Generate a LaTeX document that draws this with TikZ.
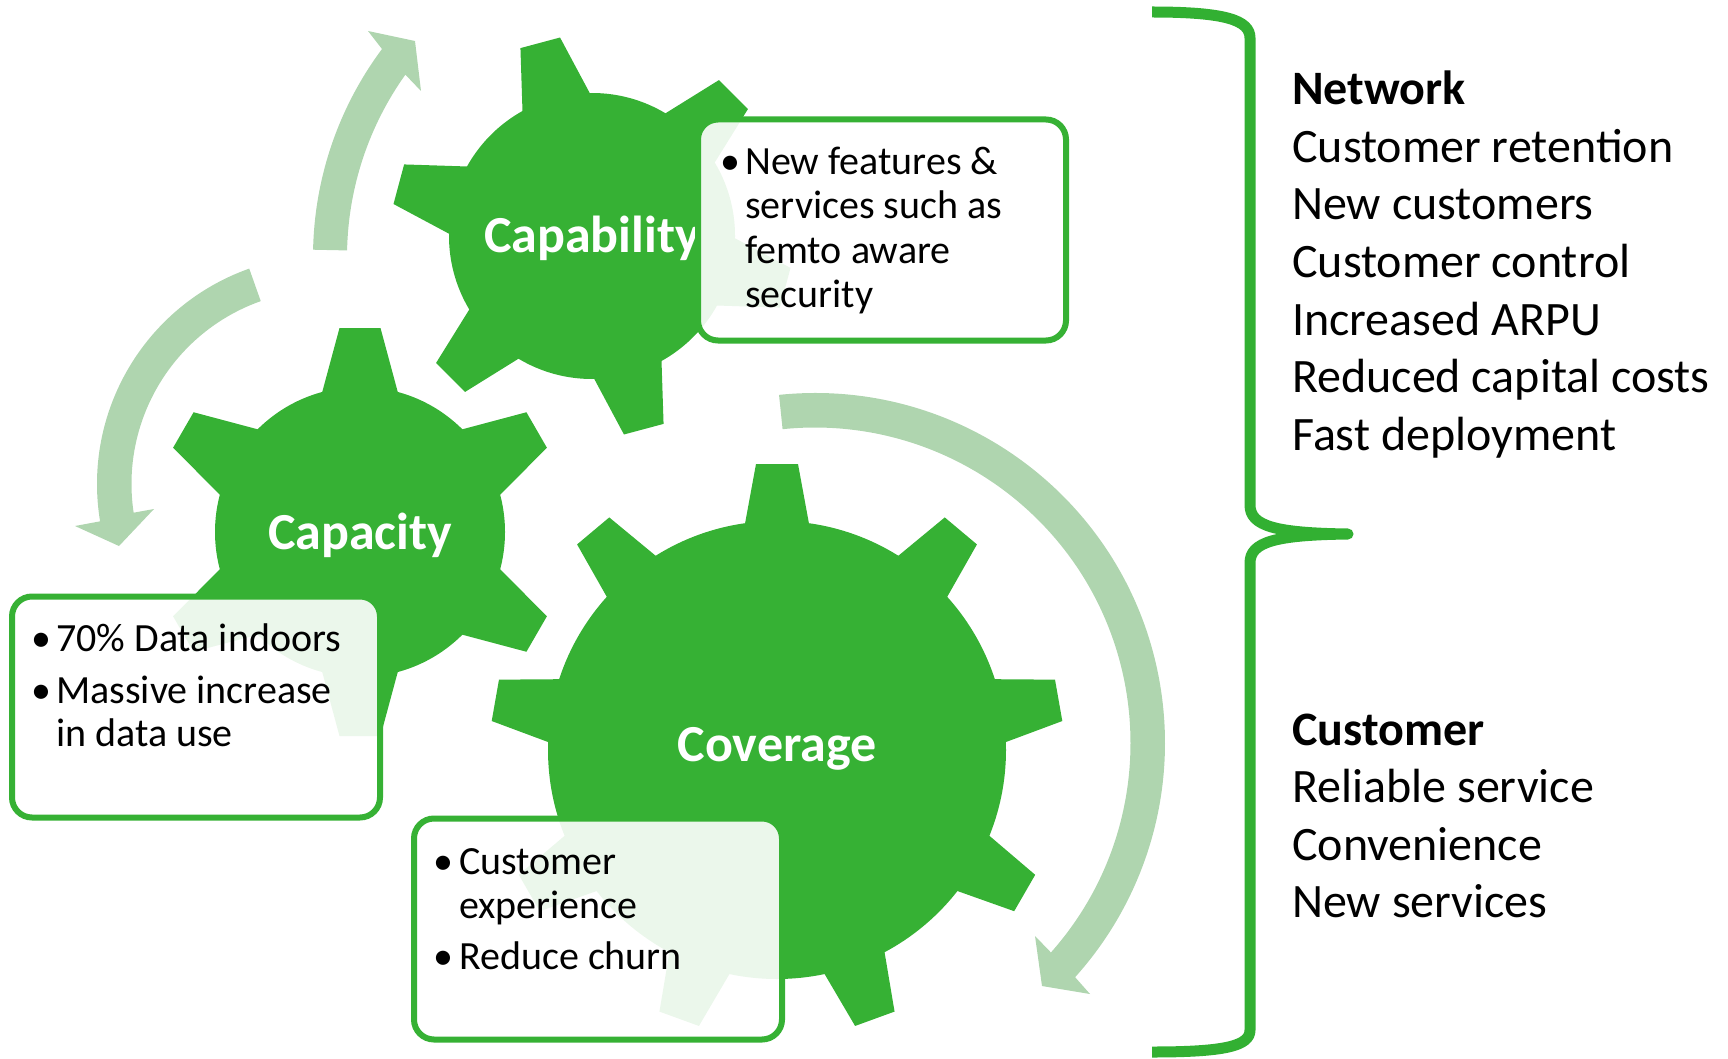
\documentclass[tikz,border=0pt]{standalone}
\usepackage{fontspec}
\setmainfont{Carlito}
\definecolor{gearg}{RGB}{54,177,52}
\definecolor{arrowg}{RGB}{175,213,175}
\definecolor{braceg}{RGB}{50,176,50}
\tikzset{
  bodytext/.style={anchor=base west, inner sep=0pt, font=\fontsize{40}{44}\selectfont},
  bul/.style={anchor=base, inner sep=0pt, font=\fontsize{40}{44}\selectfont},
  righttext/.style={anchor=base west, inner sep=0pt, font=\fontsize{48}{57}\selectfont},
  gearlabel/.style={anchor=base, inner sep=0pt, text=white, font=\bfseries\fontsize{52}{60}\selectfont},
  textbox/.style={draw=gearg, line width=6pt, rounded corners=20pt, fill=white, fill opacity=0.9,
                  minimum width=368pt, minimum height=221pt, inner sep=0pt},
  geartooth/.style={fill=gearg},
  cyclearrow/.style={fill=arrowg},
  bracestyle/.style={draw=braceg, line width=11pt, line join=round}
}
\begin{document}
\begin{tikzpicture}[x=1pt,y=-1pt]
\useasboundingbox (0,0) rectangle (1728,1059);

% ---------- circular arrows ----------
\fill[cyclearrow] ([shift={(181.2:348)}]661,257) arc[start angle=181.2,end angle=216.7,radius=348]
   -- (368,31) -- (415,41) -- (421,91)
   -- ([shift={(215.5:314)}]661,257) arc[start angle=215.5,end angle=181.2,radius=314] -- cycle;
\fill[cyclearrow] ([shift={(250.5:228.5)}]325.5,484) arc[start angle=250.5,end angle=170.6,radius=228.5]
   -- (75,526) -- (119,546) -- (154,509)
   -- ([shift={(171.5:194)}]325.5,484) arc[start angle=171.5,end angle=250.5,radius=194] -- cycle;
\fill[cyclearrow] ([shift={(-95.9:350)}]815,743) arc[start angle=-95.9,end angle=42,radius=350]
   -- (1090,994) -- (1042,986) -- (1035,936)
   -- ([shift={(41.6:315.5)}]815,743) arc[start angle=41.6,end angle=-95.9,radius=315.5] -- cycle;

% ---------- gears ----------
\begin{scope}[shift={(592,236)}]
  \fill[geartooth] (0,0) circle[radius=143pt];
  \foreach \a in {-105,-45,15,75,135,195}
    \fill[geartooth,rotate=-\a] (125,-38) -- (200,-20.5) -- (200,20.5) -- (125,38) -- cycle;
\end{scope}
\begin{scope}[shift={(360,532)}]
  \fill[geartooth] (0,0) circle[radius=145pt];
  \foreach \a in {-150,-90,-30,30,90,150}
    \fill[geartooth,rotate=-\a] (128,-41) -- (204,-20.5) -- (204,20.5) -- (128,41) -- cycle;
\end{scope}
\begin{scope}[shift={(777,750)}]
  \fill[geartooth] (0,0) circle[radius=229pt];
  \foreach \a in {-90,-50,-10,30,70,110,150,190,230}
    \fill[geartooth,rotate=-\a] (210,-35) -- (286,-21) -- (286,21) -- (210,35) -- cycle;
\end{scope}

\node[gearlabel] (lblcapability) at (592,252) {Capability};
\node[gearlabel] (lblcapacity) at (360,549) {Capacity};
\node[gearlabel] (lblcoverage) at (777,761) {Coverage};

% ---------- text boxes ----------
\node[textbox] (boxcapability) at (882,230) {};
\node[textbox] (boxcapacity) at (196,707) {};
\node[textbox] (boxcoverage) at (598,929) {};

\node[bul] (b1) at (730,175) {•};
\node[bodytext] (t1a) at (745,175) {New features \&};
\node[bodytext] (t1b) at (745,219) {services such as};
\node[bodytext] (t1c) at (745,263) {femto aware};
\node[bodytext] (t1d) at (745,307) {security};

\node[bul] (b2) at (41,651) {•};
\node[bodytext] (t2a) at (56,651) {70\% Data indoors};
\node[bul] (b3) at (41,703) {•};
\node[bodytext] (t3a) at (56,703) {Massive increase};
\node[bodytext] (t3b) at (56,746) {in data use};

\node[bul] (b4) at (443,874) {•};
\node[bodytext] (t4a) at (459,874) {Customer};
\node[bodytext] (t4b) at (459,918) {experience};
\node[bul] (b5) at (443,969) {•};
\node[bodytext] (t5a) at (459,969) {Reduce churn};

% ---------- brace ----------
\draw[bracestyle] (1152,12) .. controls (1225,12) and (1250,20) .. (1250,38)
  -- (1250,505) .. controls (1250,526) and (1275,533) .. (1348,534)
  .. controls (1275,535) and (1250,542) .. (1250,563)
  -- (1250,1030) .. controls (1250,1046) and (1225,1052) .. (1152,1052);

% ---------- right text ----------
\node[righttext,font=\bfseries\fontsize{48}{57}\selectfont] (net) at (1292,105) {Network};
\node[righttext] (r1) at (1292,162.5) {Customer retention};
\node[righttext] (r2) at (1292,220) {New customers};
\node[righttext] (r3) at (1292,277.5) {Customer control};
\node[righttext] (r4) at (1292,335) {Increased ARPU};
\node[righttext] (r5) at (1292,392.5) {Reduced capital costs};
\node[righttext] (r6) at (1292,450) {Fast deployment};

\node[righttext,font=\bfseries\fontsize{48}{57}\selectfont] (cust) at (1292,745) {Customer};
\node[righttext] (c1) at (1292,802.5) {Reliable service};
\node[righttext] (c2) at (1292,860) {Convenience};
\node[righttext] (c3) at (1292,917.5) {New services};
\end{tikzpicture}
\end{document}
